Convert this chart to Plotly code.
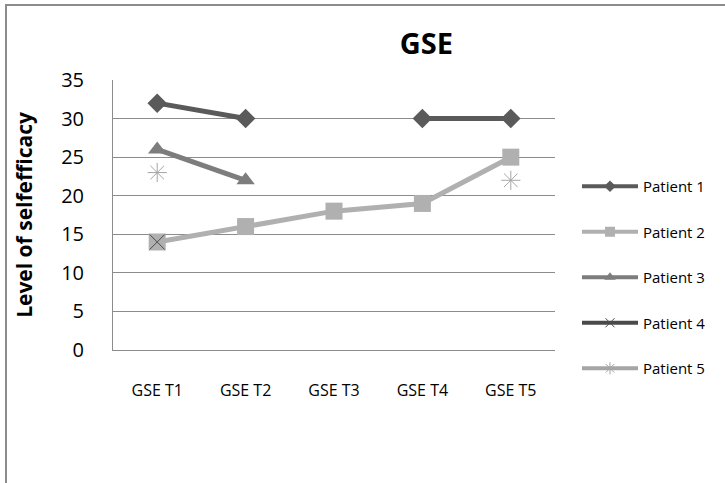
import plotly.graph_objects as go

categories = ["GSE T1", "GSE T2", "GSE T3", "GSE T4", "GSE T5"]
patient1 = [32, 30, None, 30, 30]
patient2 = [14, 16, 18, 19, 25]
patient3 = [26, 22, None, None, None]
patient4 = [14, None, None, None, None]
patient5 = [23, None, None, None, 22]
series_names = ["Patient 1", "Patient 2", "Patient 3", "Patient 4", "Patient 5"]
y_ticks = [0, 5, 10, 15, 20, 25, 30, 35]

FONT = "Open Sans"

styles = [
    dict(color="#5a5a5a", symbol="diamond", size=15, lsize=9, mlw=0),
    dict(color="#b0b0b0", symbol="square", size=17, lsize=10, mlw=0),
    dict(color="#7d7d7d", symbol="triangle-up", size=16, lsize=10, mlw=0),
    dict(color="#4a4a4a", symbol="x-thin-open", size=15, lsize=9, mlw=1),
    dict(color="#a5a5a5", symbol="asterisk-open", size=16, lsize=10, mlw=1),
]

fig = go.Figure()
for name, vals, st in zip(series_names, [patient1, patient2, patient3, patient4, patient5], styles):
    fig.add_trace(go.Scatter(
        x=categories, y=vals, name=name, mode="lines+markers",
        line=dict(color=st["color"], width=5),
        marker=dict(symbol=st["symbol"], size=st["size"], color=st["color"],
                    line=dict(width=st["mlw"], color=st["color"])),
        showlegend=False, connectgaps=False,
    ))
# legend-only entries with smaller symbols (as in the original legend)
for name, st in zip(series_names, styles):
    fig.add_trace(go.Scatter(
        x=[None], y=[None], name=name, mode="lines+markers",
        line=dict(color=st["color"], width=4),
        marker=dict(symbol=st["symbol"], size=st["lsize"], color=st["color"],
                    line=dict(width=st["mlw"], color=st["color"])),
        legendgroup=name, showlegend=True,
    ))

W, H = 725, 483
L, R, T, B = 113, 170, 80, 133
pw, ph = W - L - R, H - T - B

def px(x):
    return (x - L) / pw

def py(y):
    return (H - B - y) / ph

fig.update_layout(
    width=W, height=H,
    margin=dict(l=L, r=R, t=T, b=B),
    paper_bgcolor="white", plot_bgcolor="white",
    font=dict(family=FONT, color="#000000"),
    title=dict(text="<b>GSE</b>", x=px(373), xanchor="center", y=1 - 44 / H, yanchor="middle",
               font=dict(size=29, family=FONT, color="#000")),
    showlegend=True,
    legend=dict(x=px(577), xanchor="left", y=py(170), yanchor="top",
                font=dict(size=15, family=FONT, color="#000"),
                itemwidth=56, tracegroupgap=23, traceorder="grouped",
                bgcolor="rgba(0,0,0,0)"),
    xaxis=dict(type="category", range=[-0.5, 4.5], showgrid=False,
               showline=True, linecolor="#8c8c8c", linewidth=1,
               ticks="", tickfont=dict(size=16, family=FONT, color="#000"),
               ticklabelstandoff=26),
    yaxis=dict(range=[0, 35], tickvals=y_ticks, showgrid=True, gridcolor="#8c8c8c", gridwidth=1,
               showline=True, linecolor="#8c8c8c", linewidth=1, zeroline=False,
               ticks="", tickfont=dict(size=20, family=FONT, color="#000"),
               ticklabelstandoff=24,
               title=dict(text="<b>Level of selfefficacy</b>", font=dict(size=21, family=FONT, color="#000"),
                          standoff=22)),
    shapes=[
        dict(type="line", xref="paper", yref="paper", x0=px(5), x1=px(725), y0=py(5), y1=py(5),
             line=dict(color="#8c8c8c", width=2)),
        dict(type="line", xref="paper", yref="paper", x0=px(6), x1=px(6), y0=py(5), y1=py(483),
             line=dict(color="#8c8c8c", width=2)),
    ],
)

fig.write_html("out.html", config={"displayModeBar": False},
               post_script="document.body.style.margin='0';document.body.style.overflow='hidden';")
